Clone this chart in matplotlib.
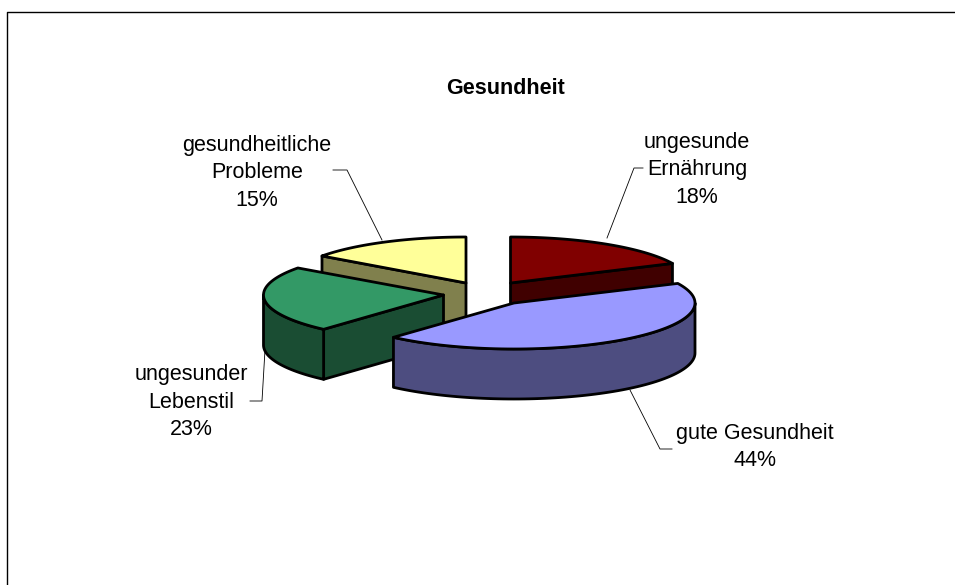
import numpy as np
import matplotlib
matplotlib.use("Agg")
import matplotlib.pyplot as plt
from matplotlib.patches import Polygon

plt.rcParams['font.family'] = ['Liberation Sans', 'DejaVu Sans']

#data, clockwise from 12 o'clock
names = ["ungesunde\nErnährung", "gute Gesundheit", "ungesunder\nLebenstil", "gesundheitliche\nProbleme"]
values = [18.0, 43.6, 23.4, 15.0]
title = "Gesundheit"

#look of the slices
top_colors = ["#800000", "#9999FF", "#339966", "#FFFF99"]
side_colors = ["#400000", "#4D4D80", "#1A4D33", "#80804D"]
apex_x = [510.5, 514, 443.5, 466]
apex_y = [283, 303, 295, 283]
radius_x = [179, 181, 180, 178]
RY = 46
DEPTH = 50
LW = 2.0

#label position and leader line for each slice (pixels)
label_xy = [(697, 170), (755, 447), (191, 402), (257, 173)]
leaders = [
    ([643, 634, 607], [168, 168, 238]),
    ([630, 660, 672], [390, 449, 449]),
    ([265, 262, 250], [350, 401, 401]),
    ([333, 347, 382], [170, 170, 240]),
]

fig = plt.figure(figsize=(9.55, 5.85), dpi=100)
ax = fig.add_axes([0, 0, 1, 1])
ax.set_xlim(0, 955)
ax.set_ylim(585, 0)
ax.axis("off")

#outer frame, only top and left are in the picture
ax.plot([6.5, 6.5, 955], [585, 11.5, 11.5], color="black", lw=1.0, zorder=1)


def arc(cx, cy, rx, a1, a2):
    a = np.radians(np.linspace(a1, a2, 80))
    return np.column_stack([cx + rx * np.sin(a), cy - RY * np.cos(a)])


def radial_face(cx, cy, rx, a, color, z):
    p = arc(cx, cy, rx, a, a)[0]
    pts = [(cx, cy), tuple(p), (p[0], p[1] + DEPTH), (cx, cy + DEPTH)]
    ax.add_patch(Polygon(pts, closed=True, fc=color, ec="black", lw=LW, joinstyle="round", zorder=z))


total = sum(values)
order = [3, 0, 2, 1]
for i in order:
    start = sum(values[:i]) / total * 360
    end = start + values[i] / total * 360
    cx, cy, rx = apex_x[i], apex_y[i], radius_x[i]
    z = 2 + order.index(i)

    #side faces which look to the viewer
    if np.sin(np.radians(start)) < -1e-6:
        radial_face(cx, cy, rx, start, side_colors[i], z)
    if np.sin(np.radians(end)) > 1e-6:
        radial_face(cx, cy, rx, end, side_colors[i], z)
    a1, a2 = max(start, 90), min(end, 270)
    if a2 > a1:
        rim = arc(cx, cy, rx, a1, a2)
        low = (rim + [0, DEPTH])[::-1]
        ax.add_patch(Polygon(np.vstack([rim, low]), closed=True, fc=side_colors[i], ec="black",
                             lw=LW, joinstyle="round", zorder=z))

    #top face
    pts = np.vstack([[(cx, cy)], arc(cx, cy, rx, start, end)])
    ax.add_patch(Polygon(pts, closed=True, fc=top_colors[i], ec="black", lw=LW, joinstyle="round", zorder=z))

#labels
for i in range(4):
    txt = f"{names[i]}\n{values[i]:.0f}%"
    ax.text(label_xy[i][0], label_xy[i][1], txt, ha="center", va="center", fontsize=15.5,
            linespacing=1.43, color="black", zorder=10)
    ax.plot(leaders[i][0], leaders[i][1], color="black", lw=0.6, zorder=1)

ax.text(505, 88, title, ha="center", va="center", fontsize=15.5, fontweight="bold", zorder=10)

fig.savefig("out.png", dpi=100)
